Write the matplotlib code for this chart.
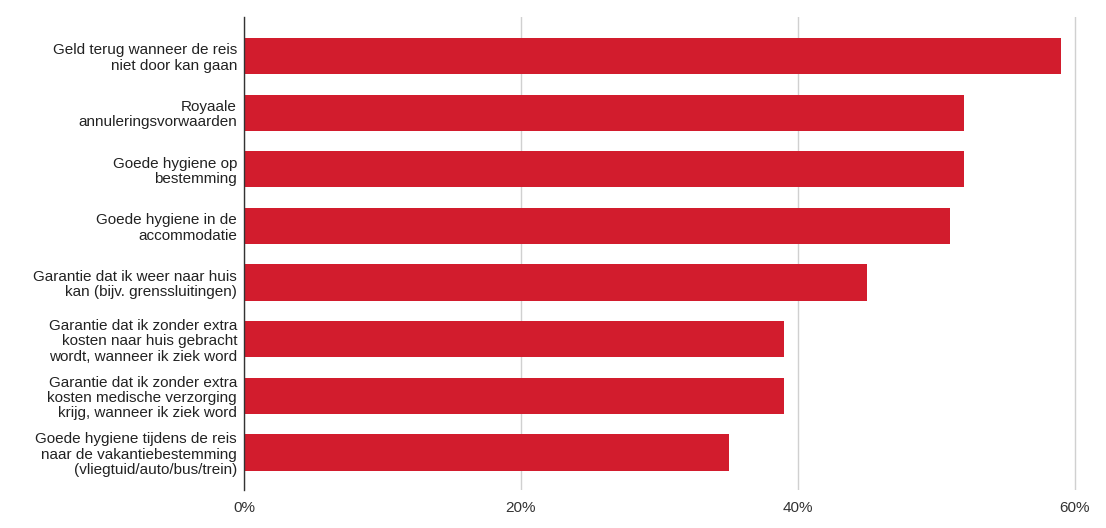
import matplotlib.pyplot as plt
import matplotlib.ticker as mticker

plt.rcParams['font.family'] = ['Liberation Sans', 'DejaVu Sans']

categories = [
    "Geld terug wanneer de reis\nniet door kan gaan",
    "Royaale\nannuleringsvorwaarden",
    "Goede hygiene op\nbestemming",
    "Goede hygiene in de\naccommodatie",
    "Garantie dat ik weer naar huis\nkan (bijv. grenssluitingen)",
    "Garantie dat ik zonder extra\nkosten naar huis gebracht\nwordt, wanneer ik ziek word",
    "Garantie dat ik zonder extra\nkosten medische verzorging\nkrijg, wanneer ik ziek word",
    "Goede hygiene tijdens de reis\nnaar de vakantiebestemming\n(vliegtuid/auto/bus/trein)",
]
values = [59, 52, 52, 51, 45, 39, 39, 35]
xticks = [0, 20, 40, 60]

fig = plt.figure(figsize=(11.06, 5.28), dpi=100)
# 0% at x=244px, 60% at x=1075px; axis runs a little past 60%
ax = fig.add_axes([244 / 1106, 0.072, 1080.5 / 1106 - 244 / 1106, 0.968 - 0.072])

ypos = list(range(len(categories)))
ax.barh(ypos, values, height=0.64, color='#d21c2d', zorder=3)

ax.set_xlim(0, 60.4)
ax.set_ylim(7.66, -0.69)
ax.set_yticks(ypos)
ax.set_yticklabels(categories, fontsize=11, color='#222222', linespacing=1.12)
ax.set_xticks(xticks)
ax.xaxis.set_major_formatter(mticker.FuncFormatter(lambda v, p: f"{v:.0f}%"))
ax.tick_params(axis='x', length=0, labelsize=11, labelcolor='#333333', pad=8)
ax.tick_params(axis='y', length=0, pad=5)

ax.grid(axis='x', color='#d0d0d0', linewidth=1, zorder=0)
for s in ['top', 'right', 'bottom']:
    ax.spines[s].set_visible(False)
ax.spines['left'].set_color('#333333')
ax.spines['left'].set_linewidth(1)
ax.spines['left'].set_zorder(4)

fig.savefig('out.png', dpi=100)
